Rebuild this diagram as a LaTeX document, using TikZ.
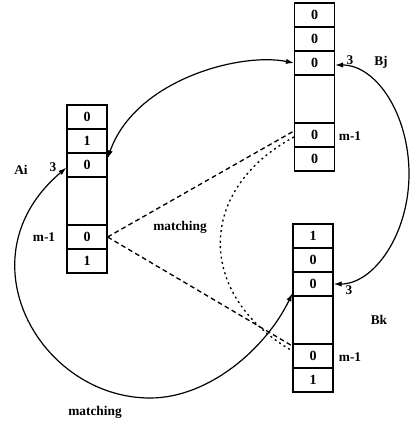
\documentclass[tikz,border=0pt]{standalone}
\usepackage{fontspec}
\setmainfont{Liberation Serif}
\usetikzlibrary{arrows.meta}
\begin{document}
\begin{tikzpicture}[x=0.75pt,y=-0.75pt,
  cell/.style={draw, line width=0.9pt, minimum width=30pt, minimum height=18pt,
    inner sep=0pt, font=\fontsize{10.5}{12}\selectfont\bfseries},
  gapcell/.style={cell, minimum height=36pt},
  lbl/.style={inner sep=0pt, font=\fontsize{10}{12}\selectfont\bfseries},
  link/.style={line width=0.9pt,
    arrows={Latex[length=6pt,width=4pt]-Latex[length=6pt,width=4pt]}},
  matchline/.style={line width=1pt, dash pattern=on 3.5pt off 2.5pt},
  matchcurve/.style={line width=1pt, dash pattern=on 1.5pt off 2.5pt}]
\useasboundingbox (0,0) rectangle (411,424);

% register Ai
\node[cell] (ai1) at (87,117) {0};
\node[cell] (ai2) at (87,141) {1};
\node[cell] (ai3) at (87,165) {0};
\node[gapcell] (ai4) at (87,201) {};
\node[cell] (ai5) at (87,237) {0};
\node[cell] (ai6) at (87,261) {1};

% register Bj
\node[cell] (bj1) at (314.5,15) {0};
\node[cell] (bj2) at (314.5,39) {0};
\node[cell] (bj3) at (314.5,63) {0};
\node[gapcell] (bj4) at (314.5,99) {};
\node[cell] (bj5) at (314.5,135) {0};
\node[cell] (bj6) at (314.5,159) {0};

% register Bk
\node[cell] (bk1) at (313,236) {1};
\node[cell] (bk2) at (313,260) {0};
\node[cell] (bk3) at (313,284) {0};
\node[gapcell] (bk4) at (313,320) {};
\node[cell] (bk5) at (313,356) {0};
\node[cell] (bk6) at (313,380) {1};

% labels
\node[lbl] (ailbl) at (21,170) {Ai};
\node[lbl] (ai3lbl) at (53,167) {3};
\node[lbl] (aimlbl) at (44,237) {m-1};
\node[lbl] (bj3lbl) at (350,60) {3};
\node[lbl] (bjlbl) at (381,62) {Bj};
\node[lbl] (bjmlbl) at (350,136) {m-1};
\node[lbl] (bk3lbl) at (349,290) {3};
\node[lbl] (bklbl) at (379,320) {Bk};
\node[lbl] (bkmlbl) at (350,357) {m-1};
\node[lbl] (match1) at (180,227) {matching};
\node[lbl] (match2) at (95,412) {matching};

% arcs between the bit-3 cells
\coordinate (lowturn) at (150,398);
\coordinate (rightturn) at (409,174);
\draw[link] ([yshift=5pt]ai3.east) .. controls (135,80) and (240,52) .. (bj3.west);
\draw[link] ([yshift=-1.5pt]bj3.east) .. controls (376,65) and (409,114) .. (rightturn)
  .. controls (409,234) and (374,284) .. (bk3.east);
\draw[link] ([yshift=-2pt]ai3.west) .. controls (-39.8,257.6) and (40,398) .. (lowturn)
  .. controls (210,398) and (266.8,347) .. ([yshift=-7pt]bk3.west);

% matching of the m-1 cells
\draw[matchline] (ai5.east) -- ([yshift=3pt]bj5.west);
\draw[matchline] (ai5.east) -- ([yshift=7.5pt]bk5.west);
\draw[matchcurve] ([yshift=-1.5pt]bj5.west) .. controls (196,190) and (196,295)
  .. ([yshift=3.75pt]bk5.west);
\end{tikzpicture}
\end{document}
